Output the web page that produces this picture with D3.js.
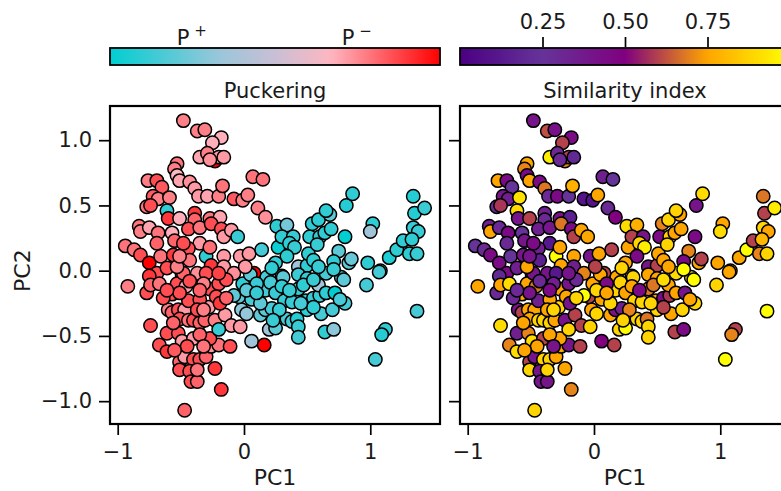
<!DOCTYPE html>
<html>
<head>
<meta charset="utf-8">
<script src="https://cdn.jsdelivr.net/npm/d3@7"></script>
<style>
  body { margin: 0; background: #fff; }
  svg { display: block; font-family: "DejaVu Sans", sans-serif; }
</style>
</head>
<body>
<svg id="chart" width="781" height="491"></svg>
<script>
// Principal-component coordinates of each conformation
const pc1 = [
  -0.48,-0.37,-0.31,-0.18,-0.25,-0.35,-0.29,-0.23,-0.20,-0.16,-0.27,-0.53,-0.55,-0.53,-0.51,-0.76,-0.69,-0.65,-0.43,-0.39,
  -0.72,-0.68,-0.59,-0.36,-0.29,-0.20,-0.17,-0.08,-0.01,0.03,0.07,0.15,0.11,0.17,-0.77,-0.74,-0.61,-0.60,-0.51,-0.39,
  -0.39,-0.27,-0.19,-0.83,-0.82,-0.75,-0.68,-0.57,-0.55,-0.44,-0.35,-0.26,-0.18,-0.16,-0.10,-0.05,-0.35,-0.94,-0.87,-0.82,
  -0.75,-0.66,-0.56,-0.44,-0.43,-0.30,-0.26,-0.16,-0.16,-0.03,0.04,0.08,0.14,0.26,0.34,0.27,0.30,0.39,0.36,0.40,
  0.34,0.25,0.43,0.50,0.51,0.52,0.54,0.59,0.60,0.58,0.64,0.68,0.65,0.69,0.75,0.71,0.80,0.81,0.86,0.83,
  0.85,0.55,1.02,1.00,0.98,1.08,1.15,1.21,1.26,1.31,1.37,1.34,1.38,1.35,1.43,1.34,1.33,
  0.18,0.30,0.43,0.65,0.77,-0.49,-0.37,-0.08,-0.69,
  -0.92,-0.75,-0.77,-0.74,-0.67,-0.57,-0.53,-0.48,-0.46,-0.43,-0.41,-0.60,-0.57,-0.52,-0.47,-0.44,-0.51,-0.44,-0.40,-0.35,
  -0.31,-0.28,-0.23,-0.15,-0.10,-0.03,-0.27,-0.20,-0.30,-0.22,-0.19,-0.74,-0.61,-0.67,-0.61,-0.52,-0.49,-0.40,-0.51,-0.47,
  -0.40,-0.35,-0.30,-0.51,-0.43,-0.42,-0.37,-0.47,-0.23,-0.18,-0.26,-0.20,-0.11,-0.27,-0.20,0.06,0.16,-0.02,0.02,0.13,
  0.20,0.25,0.17,0.22,0.34,0.38,0.42,0.43,0.43,-0.04,-0.08,-0.01,0.05,0.06,0.13,0.17,0.21,0.25,0.32,0.38,
  0.31,0.43,0.50,0.47,0.49,0.55,0.60,0.59,0.65,0.72,0.71,0.79,0.80,0.61,0.70,0.64,0.71,0.97,1.07,1.37,
  1.12,1.09,1.04,
  -0.32,-0.14,0.05,0.10,0.30,0.55,-0.35,-0.14,-0.51,-0.64,-0.35,-0.45,-0.32,
  -0.61,-0.53,-0.20,0.01,0.22,0.59,-0.69,-0.48,-0.27,-0.51,-0.35,-0.61,-0.37,-0.56,-0.32,0.02,0.10,0.28,0.23,0.50,
  0.55,0.36,0.45,0.76,-0.37,-0.55
];
const pc2 = [
  1.15,1.07,1.08,1.02,0.98,0.87,0.90,0.84,0.87,0.87,0.85,0.82,0.78,0.73,0.69,0.69,0.69,0.64,0.68,0.63,
  0.57,0.55,0.56,0.57,0.57,0.57,0.65,0.55,0.54,0.58,0.72,0.70,0.48,0.41,0.49,0.50,0.46,0.40,0.40,0.44,
  0.39,0.40,0.41,0.34,0.30,0.33,0.29,0.29,0.23,0.32,0.33,0.36,0.32,0.26,0.31,0.26,0.21,0.19,0.16,0.12,
  0.06,0.11,0.12,0.17,0.08,0.11,0.04,0.11,0.03,0.11,0.13,-0.02,0.16,0.34,0.35,0.18,0.26,0.26,0.21,0.18,
  0.11,0.06,0.03,0.04,0.13,0.26,0.36,0.39,0.26,0.20,0.29,0.43,0.46,0.32,0.15,0.07,0.26,0.50,0.59,0.06,
  0.09,0.08,0.36,0.30,0.06,0.00,0.10,0.16,0.23,0.13,0.13,0.33,0.30,0.44,0.48,0.57,0.24,
  -0.05,-0.04,-0.03,-0.02,-0.05,-0.03,-0.02,-0.02,-0.02,
  -0.12,-0.04,-0.17,-0.11,-0.10,-0.18,-0.10,-0.02,-0.12,-0.08,-0.25,-0.30,-0.32,-0.30,-0.30,-0.23,-0.37,-0.38,-0.38,-0.40,
  -0.38,-0.28,-0.38,-0.34,-0.42,-0.43,-0.14,-0.10,-0.02,-0.20,-0.25,-0.42,-0.48,-0.57,-0.62,-0.48,-0.54,-0.52,-0.70,-0.66,
  -0.68,-0.68,-0.66,-0.76,-0.77,-0.85,-0.85,-1.07,-0.75,-0.91,-0.58,-0.57,-0.58,-0.52,-0.45,-0.54,-0.57,-0.30,-0.33,-0.34,
  -0.45,-0.44,-0.30,-0.29,-0.37,-0.39,-0.37,-0.43,-0.51,-0.20,-0.19,-0.10,-0.17,-0.22,-0.25,-0.15,-0.09,-0.17,-0.23,-0.24,
  -0.05,-0.14,-0.06,-0.11,-0.23,-0.21,-0.19,-0.11,-0.17,-0.17,0.01,-0.07,-0.25,-0.33,-0.30,-0.47,-0.45,-0.11,-0.01,-0.31,
  -0.45,-0.49,-0.68,
  -0.10,-0.07,-0.03,-0.10,-0.12,-0.07,-0.22,-0.21,-0.17,-0.21,-0.49,-0.58,-0.58,
  0.02,0.03,-0.02,0.03,0.02,0.03,0.21,0.21,0.18,0.11,-0.15,-0.15,-0.30,-0.40,-0.30,-0.15,-0.17,-0.30,-0.38,-0.30,
  -0.28,-0.15,-0.25,-0.22,-0.76,-0.61
];
// Ring puckering coordinate (0 = P+, 1 = P-)
const puckering = [
  0.77,0.77,0.77,0.68,0.68,0.70,0.77,1.00,0.72,0.72,0.74,0.79,0.77,0.66,0.70,0.77,0.86,0.84,0.74,0.72,
  0.84,0.77,0.77,0.72,0.70,0.77,0.79,0.84,0.77,0.77,0.79,0.79,0.77,0.74,0.79,0.86,0.10,0.90,0.68,0.90,
  0.82,0.79,0.70,0.79,0.77,0.70,0.79,0.68,0.82,0.86,0.79,0.86,0.86,0.72,0.72,0.12,0.72,0.79,0.79,0.86,
  1.00,0.79,0.90,0.86,0.79,0.10,0.90,0.72,0.72,0.72,0.72,1.00,0.15,0.10,0.25,0.02,0.10,0.12,0.10,0.12,
  0.10,0.10,0.35,0.10,0.10,0.10,0.10,0.10,0.10,0.12,0.10,0.20,0.10,0.10,0.20,0.10,0.00,0.08,0.10,0.20,
  0.22,0.10,0.10,0.35,0.10,0.10,0.06,0.10,0.10,0.10,0.12,0.12,0.12,0.08,0.12,0.08,0.10,
  0.15,0.10,0.12,0.15,0.15,0.90,0.74,0.74,0.86,
  0.77,0.90,0.86,0.82,0.79,0.86,0.86,0.82,0.70,0.86,0.86,0.77,0.82,0.86,0.72,0.86,0.86,0.79,0.86,0.82,
  0.82,0.72,0.77,0.72,0.72,0.72,0.86,0.86,0.86,0.86,0.90,0.86,0.86,0.86,0.90,0.86,0.72,0.72,0.82,0.72,
  0.86,0.86,0.82,0.86,0.86,0.86,0.82,0.82,0.90,0.90,0.72,0.79,0.86,0.86,0.12,0.35,1.00,0.30,0.32,0.20,
  0.35,0.20,0.20,0.15,0.15,0.15,0.08,0.12,0.15,0.20,0.20,0.10,0.30,0.15,0.20,0.15,0.15,0.12,0.12,0.12,
  0.20,0.12,0.12,0.10,0.10,0.12,0.12,0.35,0.10,0.00,0.12,0.20,0.15,0.15,0.15,0.10,0.30,0.15,0.15,0.15,
  0.10,0.08,0.15,
  0.77,0.86,0.20,0.12,0.10,0.12,0.86,0.82,0.86,0.86,0.82,0.86,0.79,
  0.86,0.77,0.88,0.72,0.10,0.12,0.82,0.86,0.80,0.77,0.82,0.86,0.86,0.82,0.77,0.20,0.12,0.12,0.12,0.10,
  0.10,0.12,0.15,0.15,0.79,0.84
];
// Similarity index of each conformation
const similarity = [
  0.40,0.62,0.42,0.45,0.60,0.95,0.30,0.70,0.60,0.20,0.30,0.75,0.70,0.45,0.75,0.75,0.45,0.25,0.45,0.68,
  0.40,0.35,0.92,0.30,0.45,0.25,0.78,0.10,0.10,0.75,0.35,0.25,0.30,0.50,0.30,0.58,0.90,0.40,0.60,0.35,
  0.30,0.40,0.15,0.35,0.75,0.30,0.45,0.25,0.40,0.35,0.38,0.68,0.45,0.60,0.75,0.75,0.12,0.25,0.30,0.45,
  0.45,0.25,0.40,0.35,0.15,1.00,0.75,0.75,0.35,0.40,0.75,0.60,0.60,0.90,0.78,0.75,0.60,0.40,0.88,0.95,
  0.45,0.75,0.40,0.60,0.75,0.45,0.70,0.88,0.88,0.88,0.75,0.75,0.88,0.75,0.70,0.45,0.45,0.40,0.90,0.75,
  0.60,0.75,0.75,0.90,0.75,0.75,0.75,1.00,0.60,0.70,0.88,0.88,0.75,0.60,0.95,0.68,0.80,
  0.75,0.90,0.75,0.90,0.88,0.35,0.40,0.70,0.45,
  0.75,0.20,0.30,0.75,0.90,0.75,0.75,0.40,0.68,0.30,0.30,0.40,0.60,0.75,0.75,0.35,0.75,0.88,0.88,0.88,
  0.75,0.88,0.40,0.60,0.60,0.88,0.75,0.40,0.12,0.75,0.40,0.90,0.35,0.70,0.90,0.70,0.90,0.60,0.60,0.40,
  0.88,0.88,0.75,0.88,0.40,0.40,0.40,0.88,0.75,0.70,0.75,0.40,0.60,0.75,0.88,0.50,0.60,0.75,0.88,0.75,
  0.88,1.00,0.40,0.35,0.88,0.88,0.68,0.88,0.88,0.60,1.00,0.75,0.40,0.75,0.88,0.88,0.88,0.75,0.88,0.88,
  0.88,0.68,0.75,0.68,0.75,0.45,0.58,0.75,0.75,0.40,1.00,1.00,0.88,0.75,0.88,0.60,0.45,0.88,0.75,1.00,
  0.60,0.70,1.00,
  0.35,0.30,0.75,0.45,0.75,0.90,0.75,0.88,0.40,0.30,0.75,0.75,0.40,
  0.35,0.75,0.40,0.60,0.88,0.75,0.30,0.45,0.75,0.40,0.45,0.30,0.75,0.75,0.88,0.88,0.75,0.70,0.88,0.88,
  0.60,0.45,0.88,0.75,0.88,0.75
];

const pc1Ticks = [-1, 0, 1];
const pc2Ticks = [1.0, 0.5, 0.0, -0.5, -1.0];
const similarityTicks = [0.25, 0.50, 0.75];
const puckerLabels = ["+", "\u2212"];
const puckerLabelAt = [0.202, 0.702];
const panelTitles = ["Puckering", "Similarity index"];

const W = 781, H = 491;
const plotTop = 106, plotBottom = 424, plotW = 330;
const panelLeft = [110, 460];
const barTop = 48, barH = 17;
const ink = "#1a1a1a";

const svg = d3.select("#chart");
svg.append("rect").attr("width", W).attr("height", H).attr("fill", "#fff");

const x = d3.scaleLinear().domain([-1.061, 1.552]).range([0, plotW]);
const y = d3.scaleLinear().domain([-1.175, 1.262]).range([plotBottom, plotTop]);

const puckerColor = d3.scaleLinear()
  .domain([0, 0.33, 0.5, 0.67, 1])
  .range(["#00ced1", "#9ac6da", "#c9bfd5", "#ffb6c1", "#ff0000"]);
const simColor = d3.scaleLinear()
  .domain([0, 0.25, 0.5, 0.75, 1])
  .range(["#4b0082", "#663399", "#800080", "#ffa500", "#ffff00"]);

const panels = [
  { left: panelLeft[0], values: puckering, color: puckerColor, title: panelTitles[0], labels: true },
  { left: panelLeft[1], values: similarity, color: simColor, title: panelTitles[1], labels: false }
];

const defs = svg.append("defs");

function styleAxis(a) {
  a.select(".domain").remove();
  a.selectAll(".tick line").attr("stroke", "#000").attr("stroke-width", 1.7);
  a.selectAll(".tick text").attr("fill", ink).attr("font-size", 21).attr("font-family", "DejaVu Sans");
}

panels.forEach((p, i) => {
  const g = svg.append("g").attr("transform", `translate(${p.left},0)`);

  // colour bar above the panel
  const gradId = "grad" + i;
  const grad = defs.append("linearGradient").attr("id", gradId)
    .attr("x1", "0%").attr("x2", "100%").attr("y1", "0%").attr("y2", "0%");
  d3.range(0, 1.0001, 0.02).forEach(t => {
    grad.append("stop").attr("offset", (t * 100) + "%").attr("stop-color", p.color(t));
  });
  const cb = d3.scaleLinear().domain([0, 1]).range([0, plotW]);
  g.append("rect").attr("x", 0).attr("y", barTop).attr("width", plotW).attr("height", barH)
    .attr("fill", `url(#${gradId})`).attr("stroke", "#000").attr("stroke-width", 1.8);

  // points
  g.append("g").selectAll("circle")
    .data(d3.range(pc1.length))
    .join("circle")
    .attr("cx", k => x(pc1[k]))
    .attr("cy", k => y(pc2[k]))
    .attr("r", 6.7)
    .attr("fill", k => p.color(p.values[k]))
    .attr("stroke", "#000")
    .attr("stroke-width", 1.5);

  // frame
  g.append("rect").attr("x", 0).attr("y", plotTop).attr("width", plotW).attr("height", plotBottom - plotTop)
    .attr("fill", "none").attr("stroke", "#000").attr("stroke-width", 2.2);

  // axes
  const xAxis = g.append("g").attr("transform", `translate(0,${plotBottom + 1})`)
    .call(d3.axisBottom(x).tickValues(pc1Ticks).tickSize(10).tickPadding(9).tickFormat(d3.format("d")));
  const yAxis = g.append("g").attr("transform", "translate(-1,0)")
    .call(d3.axisLeft(y).tickValues(pc2Ticks).tickSize(10).tickPadding(7).tickFormat(d3.format(".1f")));
  styleAxis(xAxis);
  styleAxis(yAxis);
  if (!p.labels) yAxis.selectAll(".tick text").remove();

  g.append("text").attr("x", plotW / 2).attr("y", 485).attr("text-anchor", "middle")
    .attr("font-size", 22).attr("fill", ink).text("PC1");

  g.append("text").attr("x", plotW / 2).attr("y", 98).attr("text-anchor", "middle")
    .attr("font-size", 21).attr("fill", ink).text(p.title);

  if (i === 0) {
    puckerLabels.forEach((s, j) => {
      const tx = g.append("text").attr("x", cb(puckerLabelAt[j])).attr("y", 45)
        .attr("font-size", 21).attr("fill", ink);
      tx.append("tspan").text("P");
      tx.append("tspan").attr("dx", 5).attr("dy", -9).attr("font-size", 15).text(s);
    });
  } else {
    const cbAxis = g.append("g").attr("transform", `translate(0,${barTop - 1})`)
      .call(d3.axisTop(cb).tickValues(similarityTicks).tickSize(10).tickPadding(8).tickFormat(d3.format(".2f")));
    styleAxis(cbAxis);
  }
});

svg.append("text").attr("transform", `translate(30,${y(0)}) rotate(-90)`).attr("text-anchor", "middle")
  .attr("font-size", 22).attr("fill", ink).text("PC2");
</script>
</body>
</html>
